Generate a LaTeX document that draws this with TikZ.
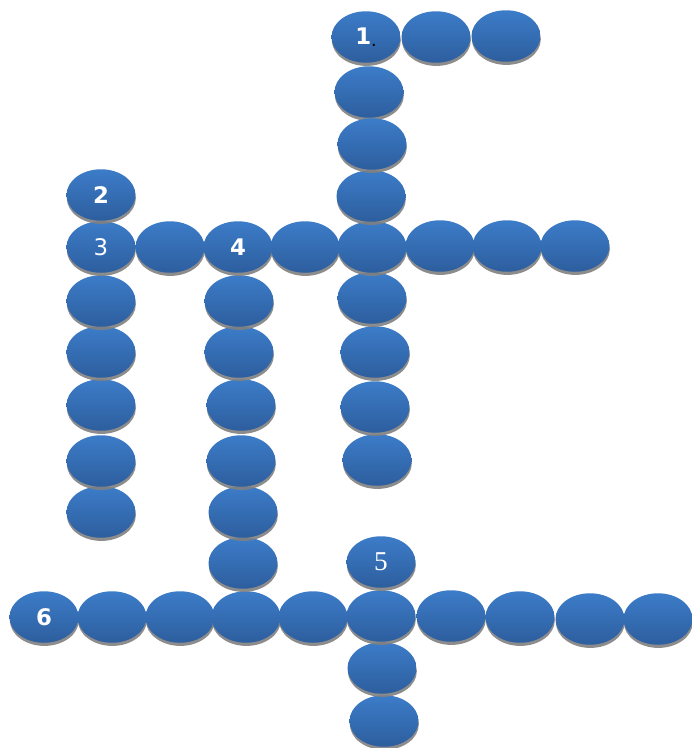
\documentclass[tikz,border=0pt]{standalone}
\usepackage{fontspec}
\setmainfont{DejaVu Sans}
\newfontfamily\numserif{Liberation Serif}
\usetikzlibrary{shapes.geometric,shadows}
\definecolor{celltop}{RGB}{60,124,200}
\definecolor{cellbot}{RGB}{45,94,158}
\tikzset{
  cell/.style={ellipse,minimum width=1.38cm,minimum height=1.03cm,inner sep=0pt,
    top color=celltop,bottom color=cellbot,
    drop shadow={shadow xshift=0.2pt,shadow yshift=-1.8pt,fill=black!50,opacity=0.9},
    text=white,font=\fontsize{13}{15}\selectfont},
}

\begin{document}
\begin{tikzpicture}[x=0.02cm,y=-0.02cm]
  \useasboundingbox (0,0) rectangle (692,748);
  % cells are drawn bottom row first, so each shadow lies on the cell below
  \node[cell] (d5-4) at (384,721) {};
  \node[cell] (d5-3) at (382,668) {};
  \node[cell] (a6-1)  at ( 44,617) {\bfseries 6};
  \node[cell] (a6-2)  at (112,617) {};
  \node[cell] (a6-3)  at (180,617) {};
  \node[cell] (a6-4)  at (246,617) {};
  \node[cell] (a6-5)  at (313,617) {};
  \node[cell] (a6-6)  at (381,616) {};
  \node[cell] (a6-7)  at (451,616) {};
  \node[cell] (a6-8)  at (520,617) {};
  \node[cell] (a6-9)  at (590,619) {};
  \node[cell] (a6-10) at (658,619) {};
  \node[cell] (d5-1) at (381,562) {\numserif\fontsize{15.5}{17}\selectfont 5};
  \node[cell] (d4-7) at (243,563) {};
  \node[cell] (d2-7) at (101,512) {};
  \node[cell] (d4-6) at (243,512) {};
  \node[cell] (d2-6) at (101,461) {};
  \node[cell] (d4-5) at (241,461) {};
  \node[cell] (d1-9) at (377,460) {};
  \node[cell] (d2-5) at (101,405) {};
  \node[cell] (d4-4) at (241,405) {};
  \node[cell] (d1-8) at (375,407) {};
  \node[cell] (d2-4) at (101,352) {};
  \node[cell] (d4-3) at (239,352) {};
  \node[cell] (d1-7) at (375,352) {};
  \node[cell] (d2-3) at (101,301) {};
  \node[cell] (d4-2) at (239,301) {};
  \node[cell] (d1-6) at (372,298) {};
  \node[cell] (a3-1) at (101,247) {3};
  \node[cell] (a3-2) at (170,247) {};
  \node[cell] (a3-3) at (238,247) {\bfseries 4};
  \node[cell] (a3-4) at (305,247) {};
  \node[cell] (a3-5) at (372,247) {};
  \node[cell] (a3-6) at (440,246) {};
  \node[cell] (a3-7) at (507,246) {};
  \node[cell] (a3-8) at (575,246) {};
  \node[cell] (d2-1) at (101,195) {\raisebox{-2pt}{\bfseries 2}};
  \node[cell] (d1-2) at (369, 92) {};
  \node[cell] (d1-4) at (371,196) {};
  \node[cell] (d1-3) at (372,144) {};
  \node[cell] (d1-1) at (366, 37) {\raisebox{-1.5pt}{\bfseries 1}\textcolor{black}{\raisebox{-3pt}{\fontsize{10}{11}\selectfont.}}};
  \node[cell] (a1-2) at (436, 37) {};
  \node[cell] (a1-3) at (506, 36) {};
\end{tikzpicture}
\end{document}
